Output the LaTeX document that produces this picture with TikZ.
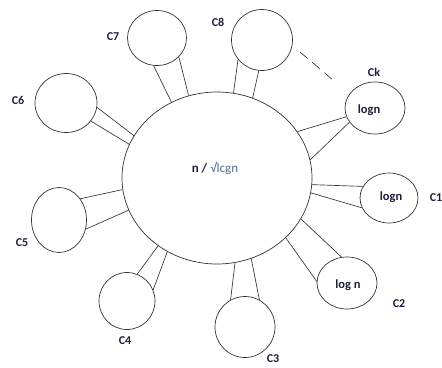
\documentclass[tikz,border=0pt]{standalone}
\usepackage{fontspec}
\setmainfont{Carlito}
\usetikzlibrary{shapes.geometric}
\definecolor{ink}{HTML}{333333}
\definecolor{lab}{HTML}{1B1F3B}
\definecolor{soft}{HTML}{56708F}
\begin{document}
\begin{tikzpicture}[x=1pt,y=-1pt,
  blob/.style={draw=ink,line width=0.7pt,ellipse,inner sep=0pt},
  lbl/.style={font=\fontsize{12}{14}\selectfont\bfseries,text=lab,inner sep=0pt},
  inl/.style={font=\fontsize{12.5}{14}\selectfont\bfseries,text=lab,inner sep=0pt},
  link/.style={draw=ink,line width=0.65pt}]
\useasboundingbox (0,0) rectangle (442,367);
% central ellipse
\node[blob,minimum width=190,minimum height=172] (e) at (217,178) {};
\node[inner sep=0pt,font=\fontsize{13}{15}\selectfont\bfseries] (et) at (215,168) {\textcolor{lab}{n /} \textcolor{soft}{\mdseries √lcgn}};
% small circles
\node[blob,minimum width=60,minimum height=52] (ck) at (375,108) {};
\node[blob,minimum width=58,minimum height=50] (c1) at (389,198) {};
\node[blob,minimum width=60,minimum height=52] (c2) at (347,283) {};
\node[blob,minimum width=60,minimum height=61] (c3) at (245,327) {};
\node[blob,minimum width=56,minimum height=57] (c4) at (127,301) {};
\node[blob,minimum width=55,minimum height=65] (c5) at (59,220) {};
\node[blob,minimum width=62,minimum height=59] (c6) at (66,103) {};
\node[blob,minimum width=59,minimum height=55] (c7) at (157,38) {};
\node[blob,minimum width=61,minimum height=61] (c8) at (262,40) {};
% inner texts
\node[inl] (tk) at (369,110) {logn};
\node[inl] (t1) at (391,197) {logn};
\node[inl] (t2) at (348,285) {log n};
% labels
\node[lbl] (lk) at (374,72) {Ck};
\node[lbl] (l1) at (436,198) {C1};
\node[lbl] (l2) at (399,304) {C2};
\node[lbl] (l3) at (273,359) {C3};
\node[lbl] (l4) at (125,341) {C4};
\node[lbl] (l5) at (22,243) {C5};
\node[lbl] (l6) at (18,100) {C6};
\node[lbl] (l7) at (113,37) {C7};
\node[lbl] (l8) at (218,22) {C8};
% connectors
\draw[link] (c7.263.7) -- (e.121.2);
\draw[link] (c7.319) -- (e.109.3);
\draw[link] (c8.219.6) -- (e.79.3);
\draw[link] (c8.264.3) -- (e.66.6);
\draw[link] (c6.352.6) -- (e.153);
\draw[link] (c6.324.7) -- (e.159.7);
\draw[link] (c5.45) -- (e.187.2);
\draw[link] (c5.341.6) -- (e.200.3);
\draw[link] (c4.69) -- (e.229);
\draw[link] (c4.23.7) -- (e.236);
\draw[link] (c3.118.4) -- (e.282.1);
\draw[link] (c3.62.6) -- (e.293.6);
\draw[link] (c2.177.9) -- (e.319.4);
\draw[link] (c2.102) -- (e.334.8);
\draw[link] (c1.156) -- (e.356.4);
\draw[link] (c1.200.3) -- (e.351);
\draw[link] (ck.197.8) -- (e.30.4);
\draw[link] (ck.209.2) -- (e.11.4);
% dashed stroke
\coordinate (d1) at (300,52);
\coordinate (d2) at (333,80);
\draw[link,dash pattern=on 10pt off 6pt] (d1) -- (d2);
\end{tikzpicture}
\end{document}
